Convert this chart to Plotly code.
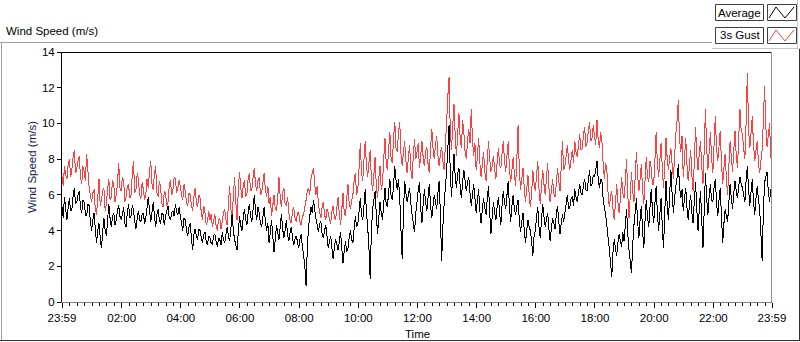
import plotly.graph_objects as go

# ---------------- data (2.5-minute samples) ----------------
series_names = ["Average", "3s Gust"]

gust = [
    7.0, 6.5, 7.6, 7.1, 6.9, 7.7, 8.0, 7.0, 7.4, 8.1, 8.5, 7.2, 7.5, 7.9, 8.2, 7.0, 6.6, 7.6, 7.3, 6.8, 8.3, 7.4, 6.4, 6.0,
    5.6, 6.1, 6.3, 5.2, 4.9, 5.8, 6.9, 5.4, 5.7, 6.2, 6.4, 5.1, 5.5, 6.3, 6.9, 5.7, 5.9, 6.8, 6.6, 5.6, 6.0, 6.6, 7.8, 6.4,
    6.2, 7.0, 6.8, 5.6, 5.9, 6.5, 6.6, 5.8, 6.0, 7.1, 7.9, 6.1, 6.3, 7.2, 6.9, 6.0, 5.8, 6.7, 6.3, 5.7, 6.0, 6.9, 6.4, 7.3,
    7.9, 6.6, 6.3, 7.2, 7.6, 6.1, 5.9, 6.8, 6.4, 5.5, 5.3, 6.2, 6.1, 5.4, 5.6, 6.5, 6.8, 6.0, 6.3, 7.0, 6.9, 6.1, 6.4, 6.8,
    6.5, 6.0, 5.7, 6.6, 6.2, 5.6, 5.4, 6.1, 6.0, 5.4, 5.1, 5.9, 6.4, 5.6, 5.3, 6.0, 5.8, 5.0, 4.6, 5.4, 5.0, 4.3, 4.5, 5.1,
    4.6, 4.9, 4.2, 4.5, 4.9, 4.3, 4.0, 4.6, 4.7, 4.1, 4.5, 5.0, 5.2, 4.6, 4.3, 5.5, 6.5, 5.2, 4.8, 5.9, 7.0, 5.6, 4.6, 6.2,
    7.3, 6.4, 5.8, 6.5, 6.8, 5.9, 6.0, 6.9, 7.2, 6.2, 6.3, 7.0, 7.5, 6.6, 6.2, 6.8, 7.0, 6.0, 6.1, 6.7, 7.2, 6.3, 5.9, 6.5,
    5.5, 5.9, 4.8, 5.4, 6.0, 5.2, 5.1, 5.8, 7.0, 5.9, 5.3, 6.1, 6.4, 5.5, 5.4, 5.9, 5.0, 4.6, 4.4, 5.1, 5.3, 4.7, 4.5, 5.0,
    5.0, 4.5, 4.3, 4.8, 4.9, 5.3, 5.7, 6.2, 6.4, 6.0, 6.9, 7.2, 7.5, 6.6, 6.0, 6.5, 5.5, 5.0, 4.7, 5.3, 5.6, 4.9, 4.6, 5.2,
    5.0, 4.6, 4.4, 5.1, 5.4, 4.7, 4.6, 5.3, 5.9, 4.9, 4.3, 5.2, 6.1, 5.0, 4.8, 5.8, 6.6, 5.5, 5.2, 5.7, 6.0, 6.8, 7.2, 6.0,
    6.3, 7.5, 8.9, 7.2, 6.8, 8.0, 9.0, 7.6, 7.0, 7.8, 8.5, 6.9, 6.2, 7.1, 8.1, 6.5, 5.8, 6.9, 7.6, 6.3, 6.6, 8.0, 9.2, 7.8,
    7.4, 8.6, 9.5, 8.0, 7.8, 9.2, 10.1, 8.6, 8.4, 9.5, 10.1, 8.3, 7.6, 8.4, 9.0, 7.9, 7.2, 8.1, 8.8, 7.4, 6.9, 8.2, 9.1, 8.0,
    8.4, 8.9, 7.5, 8.2, 9.0, 8.1, 7.6, 8.4, 8.7, 7.7, 7.2, 8.6, 9.7, 8.6, 8.0, 8.8, 9.3, 8.2, 7.6, 8.3, 8.7, 7.9, 7.4, 8.8,
    10.0, 11.5, 12.6, 9.6, 8.5, 9.9, 11.1, 9.3, 8.2, 9.4, 10.6, 9.2, 8.6, 10.2, 9.5, 8.4, 8.0, 9.0, 9.7, 8.9, 10.8, 9.1, 8.2, 8.9,
    7.4, 8.1, 9.2, 7.8, 7.0, 7.7, 8.4, 7.3, 6.8, 7.9, 9.0, 8.0, 7.3, 7.6, 8.2, 7.4, 6.9, 7.8, 8.6, 7.7, 7.5, 8.3, 9.0, 7.9,
    7.3, 8.2, 9.0, 7.5, 6.7, 7.4, 8.1, 7.2, 6.5, 8.0, 9.9, 7.4, 6.3, 6.9, 7.5, 6.4, 5.6, 6.3, 7.1, 6.0, 5.3, 6.1, 7.4, 6.6,
    6.2, 7.1, 7.9, 6.3, 5.5, 6.5, 7.4, 6.6, 6.0, 6.9, 7.8, 6.4, 5.6, 6.2, 6.9, 6.1, 5.9, 6.6, 7.5, 6.8, 6.2, 7.6, 9.0, 7.4,
    7.6, 8.2, 8.8, 7.9, 7.4, 8.0, 8.5, 7.8, 9.0, 8.4, 8.1, 8.8, 9.4, 8.5, 8.6, 9.3, 9.8, 8.7, 8.9, 9.6, 10.1, 9.0, 9.2, 9.9,
    9.3, 8.8, 10.2, 9.1, 8.6, 9.5, 9.0, 7.8, 6.9, 7.8, 7.4, 6.1, 5.3, 5.9, 6.2, 5.2, 4.6, 5.5, 6.6, 5.6, 5.0, 5.8, 7.0, 6.1,
    5.8, 6.7, 8.0, 6.0, 4.7, 5.9, 7.3, 6.2, 5.6, 7.0, 8.4, 7.1, 6.2, 6.9, 7.7, 6.3, 5.5, 6.8, 8.1, 7.0, 6.7, 7.9, 7.5, 6.6,
    6.6, 7.9, 9.5, 7.8, 7.0, 7.9, 8.9, 7.5, 6.4, 7.6, 9.2, 8.0, 7.4, 8.1, 8.6, 7.7, 6.9, 8.2, 9.4, 10.2, 11.3, 9.1, 8.4, 9.3,
    7.0, 8.0, 9.2, 7.7, 6.8, 7.6, 8.5, 7.1, 6.2, 7.9, 9.8, 8.2, 7.4, 8.3, 9.0, 7.6, 6.6, 8.5, 10.8, 8.6, 7.4, 8.4, 9.5, 8.1,
    7.2, 8.8, 10.4, 8.6, 7.9, 8.7, 9.6, 7.8, 6.6, 7.5, 8.3, 6.9, 6.0, 7.6, 9.0, 8.1, 7.3, 8.5, 9.6, 8.2, 7.5, 9.2, 10.8, 9.6,
    9.4, 8.6, 8.0, 10.1, 12.8, 9.7, 8.6, 9.5, 10.4, 8.8, 7.9, 8.5, 9.0, 7.8, 7.2, 7.9, 8.5, 10.2, 12.1, 9.8, 8.7, 9.3, 10.0, 8.2,
    7.6,
]

average = [
    5.3, 4.7, 5.9, 5.2, 4.6, 5.3, 5.8, 5.1, 5.2, 5.9, 6.4, 5.5, 5.6, 6.0, 6.2, 5.3, 5.0, 5.7, 5.6, 4.9, 4.8, 5.5, 5.4, 4.5,
    4.0, 4.6, 5.0, 4.1, 3.3, 4.0, 4.4, 3.6, 3.0, 3.9, 4.7, 4.0, 3.7, 4.6, 5.5, 4.7, 4.2, 4.8, 5.0, 4.3, 4.6, 5.1, 5.4, 4.8,
    4.6, 4.9, 5.3, 4.4, 4.2, 5.0, 5.5, 4.7, 4.8, 5.4, 5.2, 4.5, 4.1, 4.7, 5.1, 4.6, 4.5, 4.9, 5.0, 4.4, 4.7, 5.3, 5.9, 5.1,
    4.5, 5.0, 5.6, 4.8, 4.2, 4.9, 5.2, 4.6, 4.4, 5.0, 4.9, 4.3, 4.8, 5.1, 5.4, 4.7, 4.6, 5.0, 5.1, 4.8, 5.5, 5.0, 4.9, 5.3,
    4.8, 4.4, 4.0, 4.7, 4.6, 4.0, 3.7, 4.2, 4.4, 3.6, 2.9, 3.8, 4.1, 3.7, 3.5, 4.1, 4.0, 3.6, 3.3, 3.8, 3.9, 3.4, 3.2, 3.7,
    3.6, 3.3, 3.2, 3.7, 3.8, 3.4, 3.1, 3.6, 3.5, 3.2, 3.9, 3.5, 3.3, 3.8, 4.2, 3.7, 3.4, 4.1, 4.9, 4.0, 3.5, 3.2, 2.9, 3.9,
    4.8, 4.3, 4.0, 4.7, 5.2, 4.6, 4.3, 5.0, 5.5, 4.8, 4.5, 5.2, 6.0, 5.1, 4.6, 5.3, 5.0, 4.4, 4.2, 4.8, 5.3, 4.5, 4.0, 4.4,
    3.3, 3.9, 4.6, 3.7, 2.8, 3.5, 4.3, 3.9, 3.5, 4.2, 4.9, 4.1, 3.6, 4.0, 4.6, 3.8, 3.4, 3.9, 4.2, 3.6, 3.2, 3.5, 3.7, 3.4,
    3.0, 3.5, 3.8, 3.1, 2.6, 2.0, 0.9, 3.0, 4.2, 4.8, 5.3, 5.0, 5.7, 5.2, 4.7, 4.3, 3.9, 4.4, 4.5, 3.8, 3.6, 4.0, 4.3, 3.7,
    3.0, 3.4, 3.7, 3.0, 2.4, 3.1, 3.5, 3.2, 2.9, 3.4, 3.9, 3.0, 2.2, 2.9, 3.4, 2.8, 3.0, 3.6, 4.0, 3.5, 3.3, 4.1, 4.8, 4.2,
    4.4, 5.1, 5.8, 4.9, 4.6, 5.4, 6.3, 5.0, 4.2, 3.0, 1.3, 4.0, 5.2, 5.7, 6.2, 4.9, 3.8, 4.7, 5.6, 5.0, 4.6, 5.5, 6.4, 5.5,
    5.3, 6.2, 6.9, 5.9, 5.7, 6.6, 7.6, 6.8, 6.3, 6.9, 5.8, 4.0, 2.4, 5.0, 6.8, 6.1, 5.6, 6.0, 6.4, 5.5, 4.9, 4.4, 3.9, 5.0,
    5.6, 6.3, 6.7, 5.3, 4.4, 5.5, 6.3, 5.6, 5.1, 5.9, 6.6, 5.4, 4.7, 5.4, 6.0, 5.6, 5.2, 6.1, 6.8, 4.8, 2.3, 4.2, 5.5, 6.4,
    7.3, 8.6, 9.9, 7.2, 5.9, 7.1, 8.3, 7.0, 6.4, 7.2, 7.5, 6.5, 5.8, 6.7, 7.4, 6.8, 6.2, 6.7, 7.0, 6.1, 5.4, 6.0, 6.6, 5.8,
    5.0, 5.7, 6.3, 5.1, 4.4, 5.2, 5.8, 5.3, 4.9, 5.8, 6.5, 5.0, 3.8, 4.8, 5.6, 5.0, 4.6, 5.3, 5.9, 5.0, 4.3, 5.4, 6.2, 5.6,
    5.2, 6.0, 6.8, 5.3, 4.5, 5.4, 6.0, 5.2, 4.9, 5.4, 5.7, 4.6, 3.9, 4.5, 5.0, 4.0, 3.3, 4.0, 4.6, 4.2, 4.0, 3.4, 2.6, 3.7,
    4.0, 4.8, 5.3, 4.2, 3.6, 4.6, 5.5, 4.8, 4.2, 4.6, 5.0, 4.1, 3.4, 4.1, 4.7, 4.4, 4.1, 4.9, 5.4, 4.5, 3.8, 4.4, 4.9, 4.5,
    5.0, 5.5, 6.0, 5.2, 5.3, 5.8, 5.9, 5.4, 6.3, 5.9, 5.6, 6.1, 6.6, 6.1, 6.0, 6.5, 6.9, 6.3, 6.2, 6.8, 7.4, 6.5, 6.6, 7.1,
    7.0, 7.4, 7.9, 6.9, 6.4, 6.9, 6.8, 5.8, 5.3, 4.9, 4.3, 3.6, 3.0, 2.2, 1.4, 2.8, 3.5, 3.0, 2.6, 3.3, 3.8, 3.4, 3.1, 3.9,
    3.4, 4.3, 5.2, 3.8, 2.9, 2.3, 1.6, 3.2, 4.3, 5.0, 5.8, 4.5, 3.6, 4.6, 5.4, 4.0, 3.0, 4.6, 5.7, 4.8, 4.2, 5.3, 6.3, 5.2,
    4.4, 5.5, 6.5, 5.0, 4.0, 4.9, 5.8, 4.2, 3.0, 5.0, 6.8, 5.4, 4.6, 6.1, 7.4, 6.0, 5.0, 5.8, 6.5, 7.0, 7.7, 6.5, 5.8, 6.3,
    5.1, 5.8, 6.4, 5.3, 4.6, 5.4, 6.0, 5.0, 4.4, 5.7, 6.7, 5.2, 4.0, 5.2, 6.2, 4.6, 3.0, 5.1, 7.2, 5.8, 4.9, 5.9, 6.6, 5.7,
    5.6, 6.4, 6.9, 5.6, 4.8, 5.7, 6.4, 4.8, 3.3, 4.4, 5.2, 4.8, 4.5, 5.6, 6.6, 5.8, 5.2, 6.1, 6.8, 6.2, 5.8, 6.5, 7.0, 6.6,
    6.4, 6.0, 5.6, 6.8, 7.6, 6.3, 5.4, 6.2, 6.9, 5.6, 4.9, 5.8, 6.5, 5.7, 5.2, 3.8, 2.3, 5.1, 6.7, 7.0, 7.3, 6.2, 5.6, 6.3,
    6.0,
]

assert len(gust) == len(average) == 577, (len(gust), len(average))
minutes = [i * 2.5 for i in range(len(gust))]  # minutes after 23:59

tick_minutes = [0, 121, 241, 361, 481, 601, 721, 841, 961, 1081, 1201, 1321, 1440]
tick_labels = ["23:59", "02:00", "04:00", "06:00", "08:00", "10:00", "12:00",
               "14:00", "16:00", "18:00", "20:00", "22:00", "23:59"]
y_ticks = [0, 2, 4, 6, 8, 10, 12, 14]

# ---------------- layout helpers ----------------
W, H = 800, 342
L, R, T, B = 62, 772, 52, 302
FONT = "Liberation Sans, Arial, sans-serif"
RED = "#ff4040"


def px(x):
    return (x - L) / (R - L)


def py(y):
    return (B - y) / (B - T)


minor_ticks = [m for m in range(1, 1440, 15) if m not in tick_minutes and m > 5]

fig = go.Figure()
fig.add_trace(go.Scatter(x=minutes, y=gust, mode="lines", name=series_names[1],
                         line=dict(color=RED, width=1, simplify=False),
                         showlegend=False, hoverinfo="skip"))
fig.add_trace(go.Scatter(x=minutes, y=average, mode="lines", name=series_names[0],
                         line=dict(color="#000000", width=1, simplify=False),
                         showlegend=False, hoverinfo="skip"))

shapes = []


def line(x0, y0, x1, y1, color, width=1):
    shapes.append(dict(type="line", xref="paper", yref="paper",
                       x0=px(x0), y0=py(y0), x1=px(x1), y1=py(y1),
                       line=dict(color=color, width=width), layer="above"))


def rect(x0, y0, x1, y1, color):
    shapes.append(dict(type="rect", xref="paper", yref="paper",
                       x0=px(x0), y0=py(y0), x1=px(x1), y1=py(y1),
                       line=dict(color=color, width=1), fillcolor="white", layer="above"))


# outer frame
line(0, 42.5, 712, 42.5, "#a0a0a0")
line(1.5, 42, 1.5, 341, "#a0a0a0")
line(0, 340.5, 800, 340.5, "#303030")
line(799.5, 49, 799.5, 341, "#303030")
line(712, 48.5, 800, 48.5, "#c8c8c8")
line(797.5, 0, 797.5, 49, "#c8c8c8")
# plot frame
line(62, 52.5, 772, 52.5, "#000000")
line(771.5, 52, 771.5, 302, "#909090")

# legend boxes
rect(715.5, 4.5, 763.5, 20.5, "#404040")
rect(767.5, 4.5, 796.5, 20.5, "#404040")
rect(715.5, 27.5, 763.5, 43.5, "#404040")
rect(767.5, 27.5, 796.5, 43.5, "#404040")


def zigzag(y_off, color):
    pts = [(769, 18 + y_off), (776, 7 + y_off), (785, 18 + y_off), (794, 7 + y_off)]
    path = "M " + " L ".join(f"{px(x):.5f},{py(y):.5f}" for x, y in pts)
    shapes.append(dict(type="path", xref="paper", yref="paper", path=path,
                       line=dict(color=color, width=1), layer="above"))


zigzag(0, "#000000")
zigzag(23, RED)

annotations = [
    dict(text="Wind Speed (m/s)", xref="paper", yref="paper", x=px(4), y=py(31),
         xanchor="left", yanchor="middle", showarrow=False,
         font=dict(family=FONT, size=11.5, color="#000000")),
    dict(text="Wind Speed (m/s)", xref="paper", yref="paper", x=px(32), y=py(167),
         xanchor="center", yanchor="middle", textangle=-90, showarrow=False,
         font=dict(family=FONT, size=11.5, color="#1a1a50")),
    dict(text="Time", xref="paper", yref="paper", x=px(417), y=py(334),
         xanchor="center", yanchor="middle", showarrow=False,
         font=dict(family=FONT, size=11.5, color="#000000")),
    dict(text=series_names[0], xref="paper", yref="paper", x=px(739.5), y=py(12.5),
         xanchor="center", yanchor="middle", showarrow=False,
         font=dict(family=FONT, size=11.5, color="#000000")),
    dict(text=series_names[1], xref="paper", yref="paper", x=px(739.5), y=py(35.5),
         xanchor="center", yanchor="middle", showarrow=False,
         font=dict(family=FONT, size=11.5, color="#000000")),
]

fig.update_layout(
    width=W, height=H,
    margin=dict(l=L, r=W - R, t=T, b=H - B, pad=0),
    paper_bgcolor="white", plot_bgcolor="white",
    showlegend=False,
    hovermode=False,
    shapes=shapes,
    annotations=annotations,
    font=dict(family=FONT, size=11.5, color="#000000"),
    xaxis=dict(range=[0, 1440], tickmode="array", tickvals=tick_minutes, ticktext=tick_labels,
               ticks="outside", ticklen=5, tickcolor="#000000", tickwidth=1,
               showline=True, linecolor="#808080", linewidth=1, showgrid=False, zeroline=False,
               tickfont=dict(family=FONT, size=11.5, color="#000000"),
               minor=dict(tickmode="array", tickvals=minor_ticks, ticks="outside",
                          ticklen=3, tickcolor="#000000", tickwidth=1, showgrid=False)),
    yaxis=dict(range=[0, 14], tickmode="array", tickvals=y_ticks,
               ticks="outside", ticklen=4, tickcolor="#000000", tickwidth=1,
               showline=True, linecolor="#000000", linewidth=1, showgrid=False, zeroline=False,
               tickfont=dict(family=FONT, size=11.5, color="#000000")),
)

post = (
    "document.body.style.margin='0';document.body.style.overflow='hidden';"
    "var st=document.createElement('style');"
    "st.textContent='.scatterlayer path.js-line{shape-rendering:crispEdges}';"
    "document.head.appendChild(st);"
)
fig.write_html("out.html", config={"displayModeBar": False}, post_script=post)
